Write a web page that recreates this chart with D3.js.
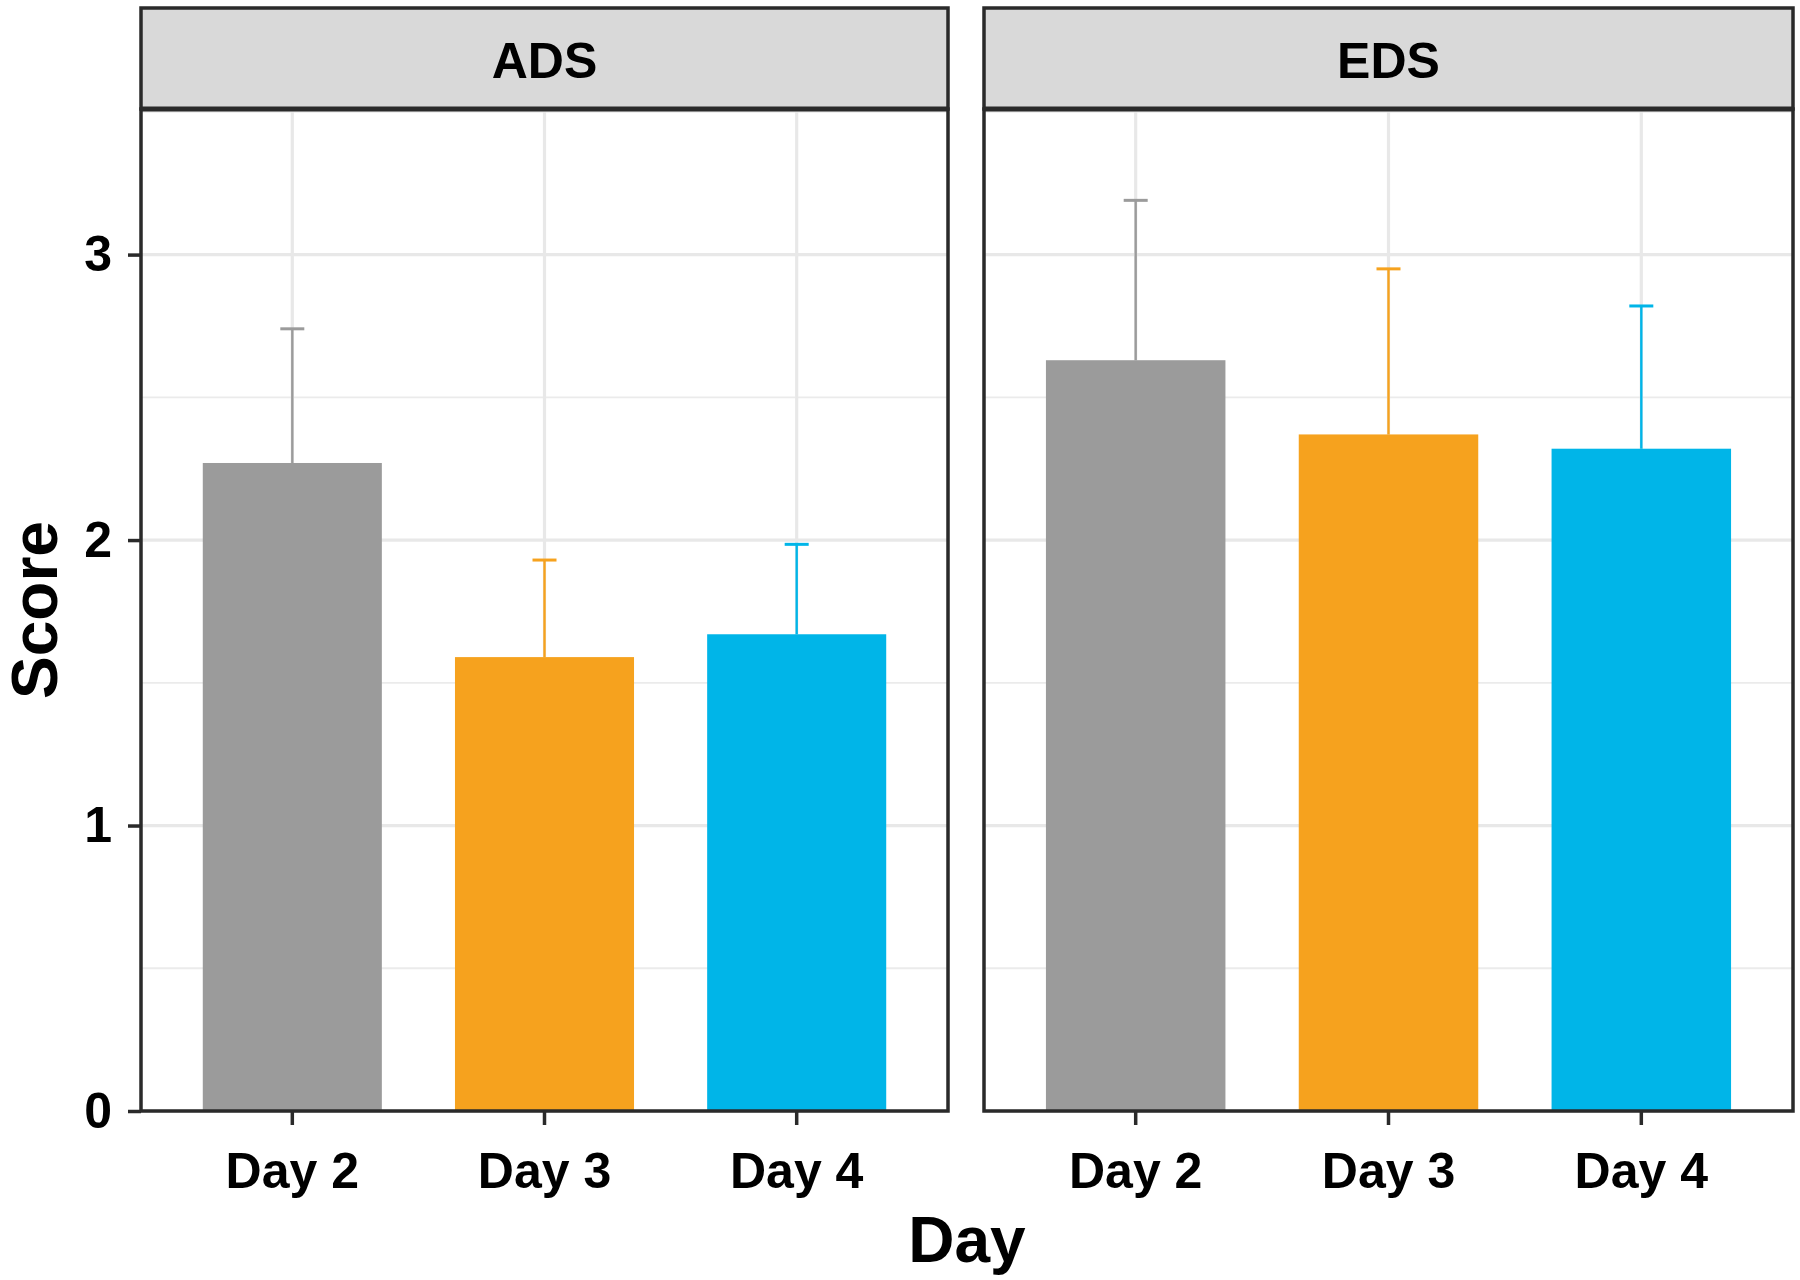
<!DOCTYPE html>
<html>
<head>
<meta charset="utf-8">
<script src="https://cdn.jsdelivr.net/npm/d3@7"></script>
<style>
  body { margin: 0; background: #fff; }
  text { font-family: "Liberation Sans", Arial, sans-serif; font-weight: bold; fill: #000; }
</style>
</head>
<body>
<div id="chart"></div>
<script>
const days = ["Day 2", "Day 3", "Day 4"];
const facets = ["ADS", "EDS"];
const adsMean = [2.27, 1.59, 1.67];
const adsSd = [0.47, 0.34, 0.315];
const edsMean = [2.63, 2.37, 2.32];
const edsSd = [0.56, 0.58, 0.50];
const yTicks = [0, 1, 2, 3];
const yMinor = [0.5, 1.5, 2.5, 3.5];
const dayColors = ["#9b9b9b", "#f6a21e", "#00b5e8"];

const width = 1800, height = 1280;
const panelTop = 109, panelBottom = 1111, stripTop = 8;
const panels = [
  {name: facets[0], left: 141, right: 948, mean: adsMean, sd: adsSd},
  {name: facets[1], left: 984, right: 1793, mean: edsMean, sd: edsSd},
];

const svg = d3.select("#chart")
  .append("svg")
    .attr("width", width)
    .attr("height", height);

const yScale = d3.scaleLinear()
  .domain([0, 3.51])
  .range([panelBottom, panelTop]);

const color = d3.scaleOrdinal().domain(days).range(dayColors);

panels.forEach((p, i) => {
  const g = svg.append("g");

  // band scale laid out like ggplot: bar width 0.71, outer expansion 0.6
  const xScale = d3.scaleBand()
    .domain(days)
    .range([p.left, p.right])
    .paddingInner(0.29)
    .paddingOuter(0.245);
  const cx = d => xScale(d) + xScale.bandwidth() / 2;

  const rows = days.map((d, k) => ({day: d, mean: p.mean[k], sd: p.sd[k]}));

  // panel background + grid
  g.append("rect")
    .attr("x", p.left).attr("y", panelTop)
    .attr("width", p.right - p.left).attr("height", panelBottom - panelTop)
    .attr("fill", "#fff");

  g.selectAll(".minor")
    .data(yMinor)
    .enter().append("line")
      .attr("x1", p.left).attr("x2", p.right)
      .attr("y1", d => yScale(d)).attr("y2", d => yScale(d))
      .attr("stroke", "#ebebeb").attr("stroke-width", 1.8);

  g.selectAll(".major")
    .data(yTicks)
    .enter().append("line")
      .attr("x1", p.left).attr("x2", p.right)
      .attr("y1", d => yScale(d)).attr("y2", d => yScale(d))
      .attr("stroke", "#e8e8e8").attr("stroke-width", 3.2);

  g.selectAll(".vgrid")
    .data(days)
    .enter().append("line")
      .attr("x1", cx).attr("x2", cx)
      .attr("y1", panelTop).attr("y2", panelBottom)
      .attr("stroke", "#e8e8e8").attr("stroke-width", 3.2);

  // error bars (upper only)
  g.selectAll(".err")
    .data(rows)
    .enter().append("line")
      .attr("x1", d => cx(d.day)).attr("x2", d => cx(d.day))
      .attr("y1", d => yScale(d.mean)).attr("y2", d => yScale(d.mean + d.sd))
      .attr("stroke", d => color(d.day)).attr("stroke-width", 2.4);

  g.selectAll(".cap")
    .data(rows)
    .enter().append("line")
      .attr("x1", d => cx(d.day) - 12).attr("x2", d => cx(d.day) + 12)
      .attr("y1", d => yScale(d.mean + d.sd)).attr("y2", d => yScale(d.mean + d.sd))
      .attr("stroke", d => color(d.day)).attr("stroke-width", 3);

  // bars
  g.selectAll(".bar")
    .data(rows)
    .enter().append("rect")
      .attr("x", d => xScale(d.day))
      .attr("y", d => yScale(d.mean))
      .attr("width", xScale.bandwidth())
      .attr("height", d => panelBottom - yScale(d.mean))
      .attr("fill", d => color(d.day));

  // panel border
  g.append("rect")
    .attr("x", p.left).attr("y", panelTop)
    .attr("width", p.right - p.left).attr("height", panelBottom - panelTop)
    .attr("fill", "none").attr("stroke", "#2a2a2a").attr("stroke-width", 3.5);

  // strip
  g.append("rect")
    .attr("x", p.left).attr("y", stripTop)
    .attr("width", p.right - p.left).attr("height", panelTop - stripTop)
    .attr("fill", "#d9d9d9").attr("stroke", "#2a2a2a").attr("stroke-width", 3.5);
  g.append("line")
    .attr("x1", p.left).attr("x2", p.right)
    .attr("y1", panelTop).attr("y2", panelTop)
    .attr("stroke", "#2a2a2a").attr("stroke-width", 5);
  g.append("text")
    .attr("x", (p.left + p.right) / 2).attr("y", 78)
    .attr("text-anchor", "middle")
    .style("font-size", "50px")
    .text(p.name);

  // X axis
  const xAxis = g.append("g")
    .attr("transform", `translate(0, ${panelBottom})`)
    .call(d3.axisBottom(xScale).tickSize(14).tickPadding(0));
  xAxis.select(".domain").remove();
  xAxis.selectAll("line").attr("stroke", "#2a2a2a").attr("stroke-width", 3.5);
  xAxis.selectAll("text")
    .attr("y", 77).attr("dy", 0)
    .style("font-size", "50px")
    .style("font-family", "'Liberation Sans', Arial, sans-serif")
    .style("font-weight", "bold")
    .attr("fill", "#000");

  // Y axis on the first panel only
  if (i === 0) {
    const yAxis = g.append("g")
      .attr("transform", `translate(${p.left}, 0)`)
      .call(d3.axisLeft(yScale).tickValues(yTicks).tickSize(13).tickPadding(16).tickFormat(d3.format("d")));
    yAxis.select(".domain").remove();
    yAxis.selectAll("line").attr("stroke", "#2a2a2a").attr("stroke-width", 3.5);
    yAxis.selectAll("text")
      .style("font-size", "50px")
      .style("font-family", "'Liberation Sans', Arial, sans-serif")
      .style("font-weight", "bold")
      .attr("fill", "#000");
  }
});

// axis titles
svg.append("text")
  .attr("x", (panels[0].left + panels[1].right) / 2)
  .attr("y", 1262)
  .attr("text-anchor", "middle")
  .style("font-size", "64px")
  .text("Day");

svg.append("text")
  .attr("transform", `translate(57, ${(panelTop + panelBottom) / 2}) rotate(-90)`)
  .attr("text-anchor", "middle")
  .style("font-size", "64px")
  .text("Score");
</script>
</body>
</html>
